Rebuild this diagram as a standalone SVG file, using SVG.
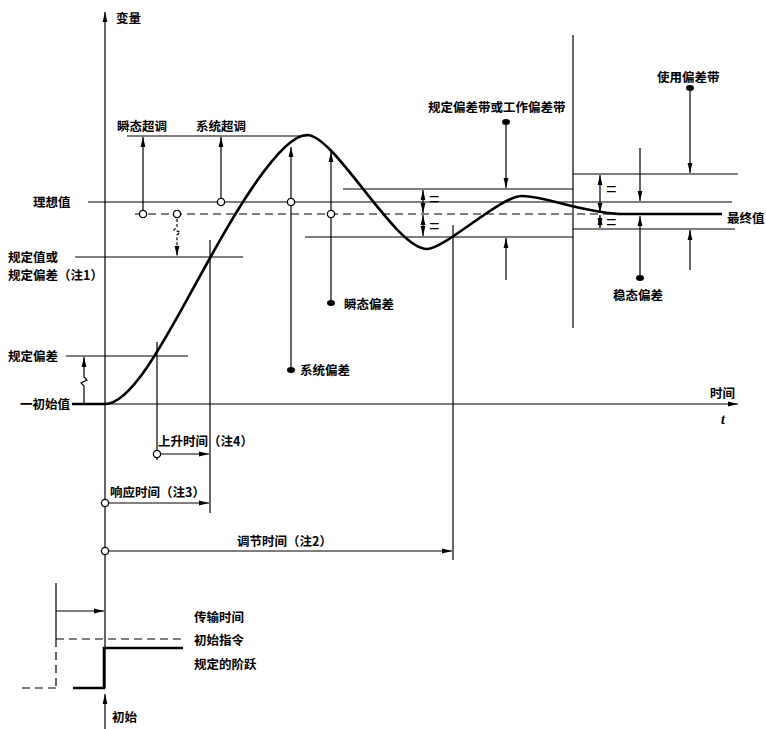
<svg xmlns="http://www.w3.org/2000/svg" width="766" height="729" viewBox="0 0 766 729">
<defs>
<marker id="ah" viewBox="0 0 10 6" refX="10" refY="3" markerWidth="10" markerHeight="6" markerUnits="userSpaceOnUse" orient="auto-start-reverse">
<path d="M0,0.6 L10,3 L0,5.4 Z" fill="#000"/>
</marker>
<style>
.t{font-family:"Noto Sans CJK SC","Liberation Sans",sans-serif;font-size:12.5px;font-weight:bold;fill:#000}
.eq{font-family:"Liberation Sans",sans-serif;font-size:18px;fill:#000}
.ln{stroke:#000;stroke-width:1.2;fill:none}
.ar{stroke:#000;stroke-width:1.2;fill:none;marker-end:url(#ah)}
.da{stroke:#000;stroke-width:1.2;fill:none;marker-start:url(#ah);marker-end:url(#ah)}
.dash{stroke:#000;stroke-width:1.2;fill:none;stroke-dasharray:8 5}
.thick{stroke:#000;stroke-width:2.6;fill:none}
.oc{fill:#fff;stroke:#000;stroke-width:1.3}
.dot{fill:#000}
</style>
</defs>
<rect width="766" height="729" fill="#fff"/>

<g id="connectors">
<!-- axes -->
<line class="ar" x1="105" y1="688" x2="105" y2="12"/>
<line class="ar" x1="72" y1="404" x2="738" y2="404"/>
<line class="thick" x1="72" y1="404" x2="106" y2="404"/>
<line class="ar" x1="105" y1="729" x2="105" y2="694"/>
<!-- horizontal reference lines -->
<line class="ln" x1="88" y1="202" x2="732" y2="202"/>
<line class="dash" x1="135" y1="214" x2="612" y2="214"/>
<line class="ln" x1="127" y1="136" x2="307" y2="136"/>
<line class="ln" x1="75" y1="257" x2="243" y2="257"/>
<line class="ln" x1="66" y1="356" x2="188" y2="356"/>
<line class="ln" x1="343" y1="189" x2="573" y2="189"/>
<line class="ln" x1="305" y1="237" x2="573" y2="237"/>
<line class="ln" x1="573" y1="174" x2="738" y2="174"/>
<line class="ln" x1="573" y1="229" x2="735" y2="229"/>
<!-- verticals -->
<line class="ln" x1="573" y1="35" x2="573" y2="328"/>
<line class="ln" x1="157" y1="342" x2="157" y2="460"/>
<line class="ln" x1="210" y1="240" x2="210" y2="513"/>
<line class="ln" x1="453" y1="225" x2="453" y2="560"/>
<!-- overshoot arrows -->
<line class="ar" x1="143" y1="214" x2="143" y2="137"/>
<line class="ar" x1="221" y1="202" x2="221" y2="137"/>
<line class="ar" x1="291" y1="370" x2="291" y2="147"/>
<line class="ar" x1="331" y1="303" x2="331" y2="152"/>
<!-- break arrows -->
<path class="ar" d="M177,214 L177,227 L174,230 L180,232 L177,235 L177,256" stroke-dasharray="3 2"/>
<path class="ar" d="M84,404 L84,386 L81,383 L87,380 L84,377 L84,357"/>
<!-- deviation band arrows -->
<line class="da" x1="423" y1="190" x2="423" y2="213"/>
<line class="da" x1="423" y1="215" x2="423" y2="236"/>
<line class="da" x1="600" y1="175" x2="600" y2="213"/>
<line class="da" x1="600" y1="215" x2="600" y2="228"/>
<line class="ar" x1="506" y1="122" x2="506" y2="188"/>
<line class="ar" x1="506" y1="280" x2="506" y2="238"/>
<line class="ar" x1="640" y1="148" x2="640" y2="201"/>
<line class="ar" x1="640" y1="278" x2="640" y2="216"/>
<line class="ar" x1="690" y1="88" x2="690" y2="173"/>
<line class="ar" x1="690" y1="270" x2="690" y2="230"/>
<!-- time arrows -->
<line class="ar" x1="161" y1="454" x2="209" y2="454"/>
<line class="ar" x1="109" y1="503" x2="209" y2="503"/>
<line class="ar" x1="109" y1="551" x2="452" y2="551"/>
<line class="ar" x1="56" y1="611" x2="104" y2="611"/>
<!-- step signals -->
<line class="ln" x1="56" y1="583" x2="56" y2="639"/>
<line class="dash" x1="56" y1="639" x2="56" y2="688"/>
<line class="dash" x1="22" y1="688" x2="56" y2="688"/>
<line class="dash" x1="56" y1="639" x2="183" y2="639"/>
<path class="thick" d="M73,688 L104,688 L104,648 L183,648"/>
</g>

<g id="response-curve">
<path d="M105,404 C135,404 175,320 210,258 C232,218 280,135 307,135 C335,135 395,249 427,249 C445,249 500,196 522,196 C545,196 580,212 620,214 L722,214" fill="none" stroke="#000" stroke-width="2.6"/>
</g>

<g id="markers">
<circle class="oc" cx="143" cy="214" r="3.6"/>
<circle class="oc" cx="177" cy="214" r="3.6"/>
<circle class="oc" cx="221" cy="202" r="3.6"/>
<circle class="oc" cx="291" cy="202" r="3.6"/>
<circle class="oc" cx="331" cy="214" r="3.6"/>
<circle class="oc" cx="157" cy="454" r="3.6"/>
<circle class="oc" cx="105" cy="503" r="3.6"/>
<circle class="oc" cx="105" cy="551" r="3.6"/>
<ellipse class="dot" cx="506" cy="122" rx="4" ry="3"/>
<ellipse class="dot" cx="690" cy="88" rx="4" ry="3"/>
<ellipse class="dot" cx="640" cy="278" rx="4" ry="3"/>
<ellipse class="dot" cx="291" cy="370" rx="4" ry="3"/>
<ellipse class="dot" cx="331" cy="303" rx="4" ry="3"/>
</g>

<g id="labels">
<text class="t" x="116" y="23">变量</text>
<text class="t" x="117" y="131">瞬态超调</text>
<text class="t" x="196" y="131">系统超调</text>
<text class="t" x="33" y="207">理想值</text>
<text class="t" x="8" y="262">规定值或</text>
<text class="t" x="8" y="280">规定偏差（注1）</text>
<text class="t" x="8" y="361">规定偏差</text>
<text class="t" x="20" y="409">一初始值</text>
<text class="t" x="300" y="375">系统偏差</text>
<text class="t" x="344" y="309">瞬态偏差</text>
<text class="t" x="428" y="112">规定偏差带或工作偏差带</text>
<text class="t" x="657" y="82">使用偏差带</text>
<text class="t" x="613" y="300">稳态偏差</text>
<text class="t" x="727" y="223">最终值</text>
<text class="t" x="710" y="398">时间</text>
<text x="721" y="424" font-family="Liberation Serif,serif" font-style="italic" font-weight="bold" font-size="14">t</text>
<text class="t" x="158" y="446">上升时间（注4）</text>
<text class="t" x="110" y="497">响应时间（注3）</text>
<text class="t" x="237" y="546">调节时间（注2）</text>
<text class="t" x="194" y="622">传输时间</text>
<text class="t" x="194" y="645">初始指令</text>
<text class="t" x="194" y="669">规定的阶跃</text>
<text class="t" x="112" y="722">初始</text>
<text class="eq" x="429" y="205">=</text>
<text class="eq" x="429" y="232">=</text>
<text class="eq" x="606" y="195">=</text>
<text class="eq" x="606" y="228">=</text>
</g>
</svg>
